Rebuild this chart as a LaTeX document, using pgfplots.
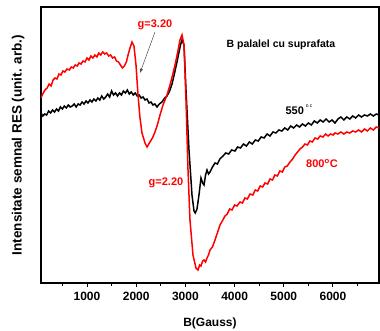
\documentclass[border=0pt]{standalone}
\usepackage{pgfplots}
\pgfplotsset{compat=1.18}
\usepackage{fontspec}
\setmainfont{Liberation Sans}
\begin{document}
\begin{tikzpicture}[x=1pt,y=1pt]
\begin{axis}[
  at={(0,0)}, anchor=south west,
  scale only axis, width=338pt, height=276pt,
  xmin=65, xmax=6935, ymin=0, ymax=276,
  axis line style={line width=1.3pt},
  xtick={1000,2000,3000,4000,5000,6000},
  minor xtick={500,1500,2500,3500,4500,5500,6500},
  ytick=\empty,
  xtick pos=bottom, tick align=outside,
  major tick length=4pt, minor tick length=3pt,
  every tick/.style={line width=1pt,black},
  /pgf/number format/assume math mode=true,
  /pgf/number format/set thousands separator={},
  ticklabel style={font=\fontsize{12}{14}\selectfont\bfseries},
  xticklabel style={yshift=-2pt},
  xlabel={B(Gauss)},
  xlabel style={font=\fontsize{12}{14}\selectfont\bfseries, yshift=-10pt},
  ylabel={Intensitate semnal RES (unit. arb.)},
  ylabel style={font=\fontsize{13.5}{15}\selectfont\bfseries, yshift=9pt},
  clip=true,
]
\addplot[black, line width=1.5pt] coordinates {
(65,170)(100,167)(140,169)(180,168)(220,172)(260,170)(300,173)(340,171)(380,174)(420,172)(460,176)(500,174)(540,177)(580,175)(620,178)(660,176)(700,177)(740,179)(780,176)(820,179)(860,178)(900,181)(940,179)(980,182)(1020,180)(1060,183)(1100,181)(1140,184)(1180,182)(1220,185)(1260,183)(1300,187)(1340,184)(1380,186)(1420,189)(1460,186)(1500,192)(1540,188)(1580,190)(1620,187)(1660,190)(1700,188)(1740,192)(1780,190)(1820,193)(1860,189)(1900,191)(1940,188)(1980,190)(2020,187)(2060,188)(2100,185)(2140,186)(2180,183)(2220,184)(2260,180)(2300,181)(2340,178)(2380,179)(2423,176)(2470,179)(2524,181)(2580,185)(2626,187)(2680,192)(2728,199)(2780,210)(2829,221)(2900,238)(2931,243)(2972,238)(3012,193)(3073,133)(3134,88)(3175,72)(3200,70)(3236,74)(3276,88)(3317,105)(3350,100)(3378,98)(3410,108)(3439,113)(3470,109)(3500,111)(3550,116)(3602,120)(3650,119)(3700,124)(3764,127)(3820,130)(3880,129)(3940,133)(4008,132)(4060,136)(4120,135)(4180,139)(4240,137)(4300,141)(4360,139)(4420,143)(4480,142)(4540,146)(4600,145)(4660,149)(4719,147)(4780,151)(4840,150)(4900,153)(4960,152)(5020,155)(5080,153)(5140,157)(5200,155)(5260,158)(5320,156)(5380,159)(5440,157)(5500,160)(5560,158)(5620,162)(5680,160)(5740,163)(5800,161)(5860,164)(5920,161)(5980,163)(6041,160)(6100,164)(6160,166)(6220,163)(6280,166)(6340,164)(6400,167)(6460,165)(6520,168)(6580,166)(6640,168)(6700,167)(6760,169)(6820,167)(6880,169)(6935,168)};
\addplot[red, line width=1.5pt] coordinates {
(65,185)(100,189)(146,193)(190,195)(230,199)(270,197)(310,203)(350,205)(390,204)(430,209)(470,208)(510,212)(550,211)(593,214)(640,213)(680,216)(720,215)(760,218)(800,217)(840,220)(880,219)(919,222)(960,221)(1000,225)(1040,223)(1080,227)(1120,225)(1160,228)(1200,226)(1240,230)(1280,228)(1320,231)(1360,229)(1400,230)(1440,227)(1480,228)(1520,225)(1560,226)(1600,222)(1640,221)(1680,218)(1720,215)(1760,217)(1800,221)(1840,229)(1874,235)(1915,241)(1955,237)(1996,218)(2037,188)(2077,165)(2118,150)(2179,140)(2220,136)(2280,141)(2330,145)(2382,151)(2430,158)(2484,168)(2545,178)(2626,188)(2687,198)(2740,208)(2789,218)(2840,230)(2890,243)(2931,248)(2972,238)(3012,183)(3053,113)(3093,63)(3154,28)(3215,15)(3256,13)(3290,18)(3317,17)(3350,22)(3378,23)(3410,21)(3439,25)(3470,28)(3500,33)(3550,36)(3602,43)(3650,50)(3703,58)(3750,62)(3805,67)(3850,69)(3900,74)(3947,73)(4000,78)(4050,77)(4110,81)(4160,80)(4210,85)(4260,84)(4313,89)(4370,88)(4420,93)(4470,92)(4520,97)(4570,96)(4618,100)(4670,99)(4720,104)(4770,103)(4820,108)(4870,107)(4920,112)(4970,111)(5020,116)(5070,117)(5126,121)(5180,124)(5230,128)(5280,131)(5329,134)(5380,136)(5430,139)(5480,138)(5530,142)(5580,141)(5634,145)(5690,144)(5740,147)(5797,146)(5850,149)(5900,147)(5950,149)(6000,148)(6041,150)(6100,149)(6160,151)(6220,149)(6280,151)(6340,150)(6400,152)(6460,151)(6520,153)(6580,151)(6640,154)(6700,152)(6760,155)(6820,153)(6880,156)(6935,155)};
\node[red, font=\fontsize{11}{13}\selectfont\bfseries] at (axis cs:2382,258) {g=3.20};
\draw[-{latex}, gray!60!black, line width=0.5pt] (axis cs:2382,251) -- (axis cs:2077,210);
\node[font=\fontsize{10.5}{12}\selectfont\bfseries] at (axis cs:4943,238) {B palalel cu suprafata};
\node[font=\fontsize{11}{13}\selectfont\bfseries] at (axis cs:5309,173) {550\,\raisebox{1.2ex}{\fontsize{5}{6}\selectfont\mdseries o c}};
\node[red, font=\fontsize{11}{13}\selectfont\bfseries] at (axis cs:5776,120) {800\textsuperscript{o}C};
\node[red, font=\fontsize{11}{13}\selectfont\bfseries] at (axis cs:2606,100) {g=2.20};
\end{axis}
\pgfresetboundingbox
\path[use as bounding box] (-41pt,-48pt) rectangle (339pt,283pt);
\end{tikzpicture}
\end{document}
